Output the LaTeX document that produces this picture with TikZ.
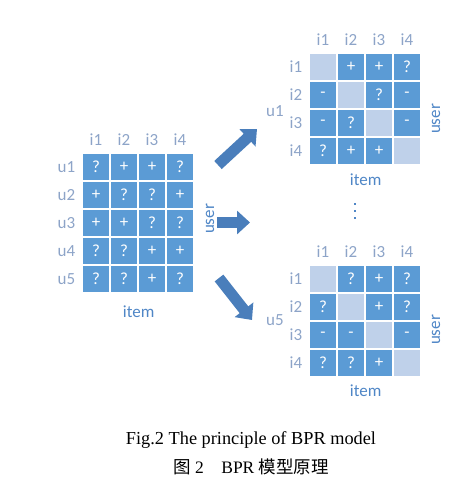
\documentclass[tikz,border=0pt]{standalone}
\usepackage{fontspec}
\setmainfont{Liberation Serif}
\newfontfamily\labfont{Carlito}
\newfontfamily\cjk{Noto Sans CJK SC}
\usetikzlibrary{arrows.meta,positioning}
\definecolor{cellblue}{HTML}{5B9BD5}
\definecolor{celllight}{HTML}{BFD1EA}
\definecolor{lblgray}{HTML}{8DA4C8}
\definecolor{lblblue}{HTML}{4F86C6}
\definecolor{arrowblue}{HTML}{4A7EBB}

\begin{document}
\begin{tikzpicture}[x=1pt,y=-1pt,
 cell/.style={draw=white,line width=1.2pt,fill=cellblue,minimum size=28pt,inner sep=0pt,
   text=white,font=\labfont\fontsize{17}{17}\selectfont},
 diag/.style={cell,fill=celllight},
 hd/.style={text=lblgray,font=\labfont\fontsize{17}{17}\selectfont,inner sep=0pt},
 ax/.style={text=lblblue,font=\labfont\fontsize{17}{17}\selectfont,inner sep=0pt},
 big/.style={draw=arrowblue,line width=11pt,-{Triangle[width=23pt,length=13pt]}},
 capt/.style={font=\fontsize{18.3}{20}\selectfont,inner sep=0pt}]
\useasboundingbox (0,0) rectangle (475,477);

% user-item matrix
\foreach \row [count=\r] in {{?,+,+,?},{+,?,?,+},{+,+,?,?},{?,?,+,+},{?,?,+,?}}
  \foreach \v [count=\c] in \row
    \node[cell] (L-\r-\c) at ({96+28*(\c-1)},{167+28*(\r-1)}) {\v};
\foreach \c in {1,...,4} \node[hd,above=7pt of L-1-\c] (Lh\c) {i\c};
\foreach \r in {1,...,5} \node[hd,left=6pt of L-\r-1] (Lu\r) {u\r};
\node[ax,below=12pt of L-5-2.south east] (Litem) {item};
\node[ax,rotate=90] (Luser) at (210,219) {user};

% item-item matrix of u1
\foreach \row [count=\r] in {{x,+,+,?},{-,x,?,-},{-,?,x,-},{?,+,+,x}}
  \foreach \v [count=\c] in \row {
    \ifnum\r=\c \node[diag] (A-\r-\c) at ({323+28*(\c-1)},{67+28*(\r-1)}) {};
    \else \node[cell] (A-\r-\c) at ({323+28*(\c-1)},{67+28*(\r-1)}) {\v};\fi
  }
\foreach \c in {1,...,4} \node[hd,above=7pt of A-1-\c] (Ah\c) {i\c};
\foreach \r in {1,...,4} \node[hd,left=6pt of A-\r-1] (Ai\r) {i\r};
\node[ax,below=8pt of A-4-2.south east] (Aitem) {item};
\node[ax,rotate=90] (Auser) at (436,119) {user};
\node[hd] (Au) at (275,111) {u1};

% item-item matrix of u5
\foreach \row [count=\r] in {{x,?,+,?},{?,x,+,?},{-,-,x,-},{?,?,+,x}}
  \foreach \v [count=\c] in \row {
    \ifnum\r=\c \node[diag] (B-\r-\c) at ({323+28*(\c-1)},{279+28*(\r-1)}) {};
    \else \node[cell] (B-\r-\c) at ({323+28*(\c-1)},{279+28*(\r-1)}) {\v};\fi
  }
\foreach \c in {1,...,4} \node[hd,above=7pt of B-1-\c] (Bh\c) {i\c};
\foreach \r in {1,...,4} \node[hd,left=6pt of B-\r-1] (Bi\r) {i\r};
\node[ax,below=7pt of B-4-2.south east] (Bitem) {item};
\node[ax,rotate=90] (Buser) at (436,330) {user};
\node[hd] (Bu) at (275,320) {u5};

% arrows
\coordinate (p1s) at (218,165); \coordinate (p1e) at (257,129);
\coordinate (p2s) at (217,222.5); \coordinate (p2e) at (250,222.5);
\coordinate (p3s) at (219,278); \coordinate (p3e) at (252,320);
\draw[big] (p1s) -- (p1e);
\draw[big] (p2s) -- (p2e);
\draw[big] (p3s) -- (p3e);

% dots
\foreach \y in {204,211,218} \fill[lblblue] (353.8,{\y-1.2}) rectangle ++(2.5,2.5);

% caption
\node[capt] (cap1) at (251,440) {Fig.2 The principle of BPR model};
\node[capt,font=\fontsize{17.5}{20}\selectfont] (cap2) at (251,467) {{\cjk 图} 2\quad BPR {\cjk 模型原理}};
\end{tikzpicture}
\end{document}
